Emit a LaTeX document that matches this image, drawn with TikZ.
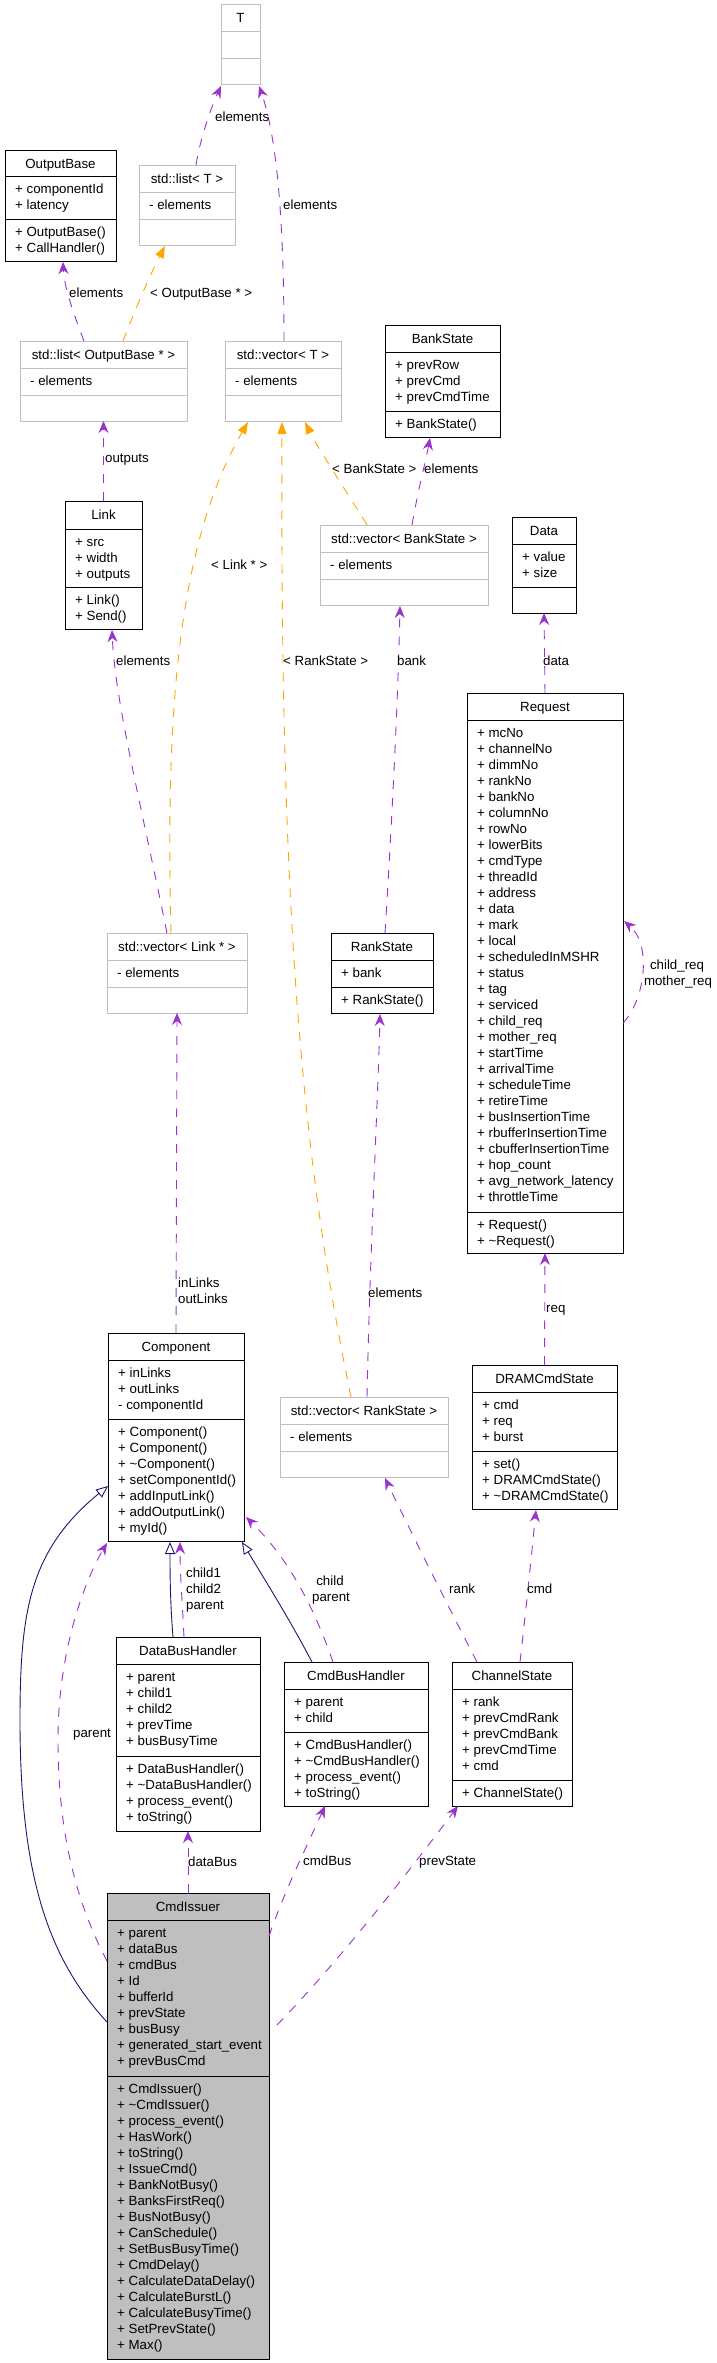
\documentclass[tikz,border=0pt]{standalone}
\usepackage{fontspec}
\setmainfont{Liberation Sans}
\usetikzlibrary{arrows.meta,calc}
\definecolor{purp}{HTML}{9A32CD}
\definecolor{orng}{HTML}{FFA500}
\definecolor{navyb}{HTML}{191970}
\definecolor{grayb}{HTML}{BFBFBF}
\newcommand\fs{\fontsize{13.3}{16}\selectfont}
\tikzset{
  boxblack/.style={draw=black, line width=1pt},
  boxgray/.style={draw=grayb, line width=1pt},
  boxfill/.style={draw=black, fill=grayb, line width=1pt},
  lbl/.style={font=\fs, inner sep=0pt, text=black},
  uses/.style={draw=purp, line width=0.9pt, dash pattern=on 9pt off 9pt,
    -{Stealth[length=12pt,width=10pt,inset=4pt,fill=purp]}},
  tmpl/.style={draw=orng, line width=0.9pt, dash pattern=on 9pt off 9pt,
    -{Triangle[length=12pt,width=9pt,fill=orng]}},
  inh/.style={draw=navyb, line width=0.9pt,
    -{Triangle[open,length=12pt,width=10pt,fill=white]}},
}
% style, name, x1, y1, x2, y2, divider1, divider2, title
\newcommand{\umlclass}[9]{%
  \node[#1, anchor=north west, inner sep=0pt, outer sep=0pt,
        minimum width={(#5-#3)*1pt}, minimum height={(#6-#4)*1pt}] (#2) at (#3,#4) {};
  \draw[#1] (#3,#7) -- (#5,#7);
  \draw[#1] (#3,#8) -- (#5,#8);
  \node[lbl, anchor=base] (#2-title) at ({(#3+#5)/2},{#4+18}) {#9};
}
% name prefix, x1, section top, list
\newcommand{\members}[4]{%
  \foreach \mtext [count=\i] in {#4} {%
    \node[lbl, anchor=base west] (#1-\i) at ({#2+10},{#3+17+16*(\i-1)}) {\mtext};
  }%
}
\begin{document}
\begin{tikzpicture}[x=1pt,y=-1pt]
\useasboundingbox (0,0) rectangle (716,2363);

% ---------- classes ----------
\umlclass{boxgray}{T}{221}{5}{260}{85}{32}{59}{T}

\umlclass{boxblack}{OB}{5}{150}{116}{261}{176}{219}{OutputBase}
\members{OBa}{5}{176}{+ componentId, + latency}
\members{OBm}{5}{219}{+ OutputBase(), + CallHandler()}

\umlclass{boxgray}{lT}{139}{165}{235}{245}{192}{219}{std::list< T >}
\members{lTa}{139}{192}{- elements}

\umlclass{boxgray}{lOB}{20}{341}{187}{421}{368}{395}{std::list< OutputBase * >}
\members{lOBa}{20}{368}{- elements}

\umlclass{boxgray}{vT}{225}{341}{341}{421}{368}{395}{std::vector< T >}
\members{vTa}{225}{368}{- elements}

\umlclass{boxblack}{BS}{385}{325}{500}{437}{352}{411}{BankState}
\members{BSa}{385}{352}{+ prevRow, + prevCmd, + prevCmdTime}
\members{BSm}{385}{411}{+ BankState()}

\umlclass{boxgray}{vBS}{320}{525}{488}{605}{552}{579}{std::vector< BankState >}
\members{vBSa}{320}{552}{- elements}

\umlclass{boxblack}{Data}{512}{517}{576}{613}{544}{587}{Data}
\members{Dataa}{512}{544}{+ value, + size}

\umlclass{boxblack}{Link}{65}{501}{142}{629}{529}{587}{Link}
\members{Linka}{65}{529}{+ src, + width, + outputs}
\members{Linkm}{65}{587}{+ Link(), + Send()}

\umlclass{boxblack}{Req}{467}{693}{623}{1253}{720}{1212}{Request}
\members{Reqa}{467}{720}{+ mcNo, + channelNo, + dimmNo, + rankNo, + bankNo, + columnNo, + rowNo,
  + lowerBits, + cmdType, + threadId, + address, + data, + mark, + local, + scheduledInMSHR,
  + status, + tag, + serviced, + child\_req, + mother\_req, + startTime, + arrivalTime,
  + scheduleTime, + retireTime, + busInsertionTime, + rbufferInsertionTime,
  + cbufferInsertionTime, + hop\_count, + avg\_network\_latency, + throttleTime}
\members{Reqm}{467}{1212}{+ Request(), + \textasciitilde Request()}

\umlclass{boxgray}{vLink}{107}{933}{247}{1013}{960}{987}{std::vector< Link * >}
\members{vLinka}{107}{960}{- elements}

\umlclass{boxblack}{RS}{331}{933}{433}{1013}{960}{987}{RankState}
\members{RSa}{331}{960}{+ bank}
\members{RSm}{331}{987}{+ RankState()}

\umlclass{boxblack}{Comp}{108}{1333}{244}{1541}{1360}{1419}{Component}
\members{Compa}{108}{1360}{+ inLinks, + outLinks, - componentId}
\members{Compm}{108}{1419}{+ Component(), + Component(), + \textasciitilde Component(),
  + setComponentId(), + addInputLink(), + addOutputLink(), + myId()}

\umlclass{boxgray}{vRS}{280}{1397}{448}{1477}{1424}{1451}{std::vector< RankState >}
\members{vRSa}{280}{1424}{- elements}

\umlclass{boxblack}{DCS}{472}{1365}{617}{1509}{1392}{1451}{DRAMCmdState}
\members{DCSa}{472}{1392}{+ cmd, + req, + burst}
\members{DCSm}{472}{1451}{+ set(), + DRAMCmdState(), + \textasciitilde DRAMCmdState()}

\umlclass{boxblack}{DBH}{116}{1637}{260}{1831}{1664}{1756}{DataBusHandler}
\members{DBHa}{116}{1664}{+ parent, + child1, + child2, + prevTime, + busBusyTime}
\members{DBHm}{116}{1756}{+ DataBusHandler(), + \textasciitilde DataBusHandler(),
  + process\_event(), + toString()}

\umlclass{boxblack}{CBH}{284}{1662}{428}{1806}{1689}{1732}{CmdBusHandler}
\members{CBHa}{284}{1689}{+ parent, + child}
\members{CBHm}{284}{1732}{+ CmdBusHandler(), + \textasciitilde CmdBusHandler(),
  + process\_event(), + toString()}

\umlclass{boxblack}{CS}{452}{1662}{572}{1806}{1689}{1780}{ChannelState}
\members{CSa}{452}{1689}{+ rank, + prevCmdRank, + prevCmdBank, + prevCmdTime, + cmd}
\members{CSm}{452}{1780}{+ ChannelState()}

\umlclass{boxfill}{CI}{107}{1893}{269}{2359}{1920}{2076}{CmdIssuer}
\members{CIa}{107}{1920}{+ parent, + dataBus, + cmdBus, + Id, + bufferId, + prevState,
  + busBusy, + generated\_start\_event, + prevBusCmd}
\members{CIm}{107}{2076}{+ CmdIssuer(), + \textasciitilde CmdIssuer(), + process\_event(),
  + HasWork(), + toString(), + IssueCmd(), + BankNotBusy(), + BanksFirstReq(),
  + BusNotBusy(), + CanSchedule(), + SetBusBusyTime(), + CmdDelay(),
  + CalculateDataDelay(), + CalculateBurstL(), + CalculateBusyTime(),
  + SetPrevState(), + Max()}

% ---------- connectors ----------
\draw[uses] ($(lT.north)+(9,0)$) .. controls +(4,-25) and +(-11,24) .. ($(T.south west)+(0,1)$);
\draw[uses] ($(vT.north)+(1,0)$) .. controls +(0,-111) and +(19,54) .. ($(T.south east)+(-1,1)$);
\draw[uses] ($(lOB.north)+(-19.5,0)$) .. controls +(-12,-31) and +(1,23) .. ($(OB.south)+(2.5,1)$);
\draw[tmpl] ($(lOB.north)+(19.5,0)$) .. controls +(12,-31) and +(-15,29) .. ($(lT.south)+(-22,1)$);
\draw[uses] (Link.north) -- (lOB.south);
\draw[tmpl] ($(vBS.north)+(-37,0)$) .. controls +(-15,-25) and +(12,25) .. ($(vT.south)+(22,1)$);
\draw[uses] ($(vBS.north)+(8,0)$) .. controls +(6,-35) and +(-4,22) .. ($(BS.south)+(-12.5,1)$);
\draw[tmpl] ($(vLink.north)+(-6,0)$) .. controls +(-6,-233) and +(-68,118) .. ($(vT.south)+(-35,1)$);
\draw[tmpl] ($(vRS.north)+(-13,0)$) .. controls +(-51,-247) and +(-2,478) .. ($(vT.south)+(-1,1)$);
\draw[uses] ($(vLink.north)+(-10,0)$) .. controls +(-27,-133) and +(3,70) .. ($(Link.south)+(8.5,1)$);
\draw[uses] ($(RS.north)+(3,0)$) .. controls +(7,-113) and +(-2,94) .. ($(vBS.south)+(-4,1)$);
\draw[uses] (Req.north) -- (Data.south);
\draw[uses] ($(Req.east)+(0,50)$) .. controls +(22,-23) and +(28,24) .. ($(Req.east)+(1,-52)$);
\draw[uses] ($(vRS.north)+(3,0)$) .. controls +(3,-147) and +(-2,86) .. ($(RS.south)+(-2,1)$);
\draw[uses] (DCS.north) -- (Req.south);
\draw[uses] (Comp.north) -- (vLink.south);
\draw[inh] ($(DBH.north)+(-15,0)$) .. controls +(-3,-37) and +(0,28) .. ($(Comp.south)+(-6,1)$);
\draw[uses] ($(DBH.north)+(-4,0)$) .. controls +(-2,-40) and +(0,30) .. ($(Comp.south)+(4,1)$);
\draw[inh] ($(CBH.north)+(-44,0)$) .. controls +(-22,-42) and +(20,33) .. ($(Comp.south east)+(-2,1)$);
\draw[uses] ($(CBH.north)+(-23,0)$) .. controls +(-18,-52) and +(44,43) .. ($(Comp.south east)+(2,-24)$);
\draw[uses] ($(CS.north)+(-35,0)$) .. controls +(-27,-52) and +(20,42) .. ($(vRS.south)+(21,1)$);
\draw[uses] ($(CS.north)+(8,0)$) .. controls +(6,-52) and +(-4,40) .. ($(DCS.south)+(-8.5,1)$);
\draw[inh] ($(CI.north west)+(0,129)$) .. controls +(-57,-62) and +(0,160) .. ($(Comp.south west)+(-88,179)$)
   .. controls +(0,-110) and +(-78,64) .. ($(Comp.north west)+(0,153)$);
\draw[uses] ($(CI.north west)+(0,68)$) .. controls +(-32,-61) and +(0,90) .. ($(Comp.south west)+(-50,199)$)
   .. controls +(0,-90) and +(-22,37) .. ($(Comp.south west)+(-1,2)$);
\draw[uses] (CI.north) -- (DBH.south);
\draw[uses] ($(CI.north east)+(0,43)$) .. controls +(16,-46) and +(-20,44) .. ($(CBH.south)+(-31,0)$);
\draw[uses] ($(CI.north east)+(8,132)$) .. controls +(63,-65) and +(-48,64) .. ($(CS.south west)+(6,0)$);

% ---------- connector labels ----------
\node[lbl, anchor=base west] (e1) at (215,121.5) {elements};
\node[lbl, anchor=base west] (e2) at (283,209) {elements};
\node[lbl, anchor=base west] (e3) at (69,297.5) {elements};
\node[lbl, anchor=base west] (e4) at (150,297.5) {< OutputBase * >};
\node[lbl, anchor=base west] (e5) at (105,462.5) {outputs};
\node[lbl, anchor=base west] (e6) at (332,473.5) {< BankState >};
\node[lbl, anchor=base west] (e7) at (424,473.5) {elements};
\node[lbl, anchor=base west] (e8) at (211,569.5) {< Link * >};
\node[lbl, anchor=base west] (e9) at (283,665.5) {< RankState >};
\node[lbl, anchor=base west] (e10) at (116,665.5) {elements};
\node[lbl, anchor=base west] (e11) at (397,665.5) {bank};
\node[lbl, anchor=base west] (e12) at (543,665.5) {data};
\node[lbl, anchor=base] (e13a) at (677,969.5) {child\_req};
\node[lbl, anchor=base] (e13b) at (678,985.5) {mother\_req};
\node[lbl, anchor=base west] (e14) at (368,1297) {elements};
\node[lbl, anchor=base west] (e15) at (546,1312.5) {req};
\node[lbl, anchor=base west] (e16a) at (178,1287) {inLinks};
\node[lbl, anchor=base west] (e16b) at (178,1303) {outLinks};
\node[lbl, anchor=base west] (e18a) at (186,1577.5) {child1};
\node[lbl, anchor=base west] (e18b) at (186,1593.5) {child2};
\node[lbl, anchor=base west] (e18c) at (186,1609.5) {parent};
\node[lbl, anchor=base] (e20a) at (330,1585) {child};
\node[lbl, anchor=base] (e20b) at (331,1601) {parent};
\node[lbl, anchor=base west] (e21) at (449,1593.5) {rank};
\node[lbl, anchor=base west] (e22) at (527,1593.5) {cmd};
\node[lbl, anchor=base west] (e24) at (73,1737.5) {parent};
\node[lbl, anchor=base west] (e25) at (188,1866.5) {dataBus};
\node[lbl, anchor=base west] (e26) at (303,1865.5) {cmdBus};
\node[lbl, anchor=base west] (e27) at (419,1865.5) {prevState};
\end{tikzpicture}
\end{document}
